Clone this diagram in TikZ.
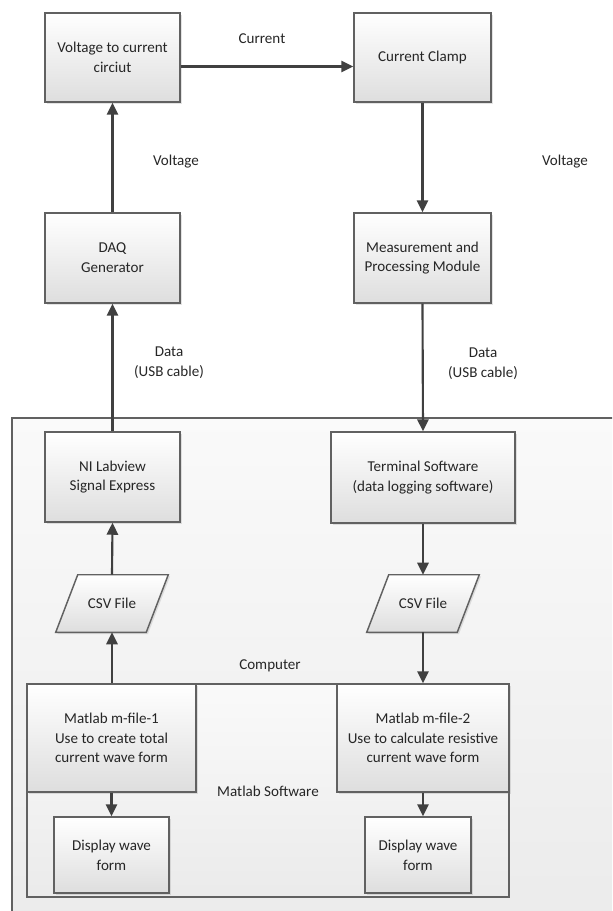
\documentclass[tikz,border=0pt]{standalone}
\usepackage{fontspec}
\setmainfont{Carlito}
\usetikzlibrary{arrows.meta,shadows,calc}
\pgfdeclarelayer{back}
\pgfdeclarelayer{mid}
\pgfsetlayers{back,mid,main}
\begin{document}
\begin{tikzpicture}[x=0.75pt,y=-0.75pt,
  font=\fontsize{11.3}{14.8}\selectfont,
  sz/.style 2 args={minimum width=#1*0.75pt, minimum height=#2*0.75pt},
  box/.style={draw=black!62, line width=1.1pt, top color=white, bottom color=black!13,
    align=center, text=black!85, inner sep=1pt,
    drop shadow={shadow xshift=1.3pt,shadow yshift=-1.3pt,opacity=0.22}},
  shapefill/.style={draw=black!62, line width=1.1pt, top color=white, bottom color=black!13,
    drop shadow={shadow xshift=1.3pt,shadow yshift=-1.3pt,opacity=0.22}},
  txtnode/.style={align=center, text=black!85, inner sep=0pt},
  group/.style={draw=black!62, line width=1.1pt, top color=black!2, bottom color=black!8},
  arr/.style={draw=black!75, line width=1.6pt, -{Triangle[length=9pt,width=8.5pt]}}]
\useasboundingbox (0,0) rectangle (612,911);

% group frames
\begin{pgfonlayer}{back}
  \begin{scope}
    \clip (0,0) rectangle (612,911);
    \path[group] (12,418) rectangle (640,940);
  \end{scope}
  \path[group] (27,684) rectangle (509,897);
\end{pgfonlayer}

% top row
\node[box, sz={135}{89}] (vtc) at (112.5,57.5) {Voltage to current\\circiut};
\node[box, sz={137}{89}] (cc)  at (422.5,57.5) {Current Clamp};
\node[box, sz={135}{90}] (daq) at (112.5,258) {DAQ\\Generator};
\node[box, sz={137}{90}] (mpm) at (422.5,258) {Measurement and\\Processing Module};

% computer part
\node[box, sz={135}{90}] (ni) at (112.5,477) {NI Labview\\Signal Express};
\node[box, sz={184}{91}] (ts) at (423,477.5) {Terminal Software\\(data logging software)};

\node[txtnode, sz={112}{57}] (csv1) at (112,603.5) {CSV File};
\node[txtnode, sz={112}{57}] (csv2) at (423,603.5) {CSV File};
\begin{pgfonlayer}{mid}
  \path[shapefill] ($(csv1.north west)+(22,0)$) -- (csv1.north east)
     -- ($(csv1.south east)+(-22,0)$) -- (csv1.south west) -- cycle;
  \path[shapefill] ($(csv2.north west)+(22,0)$) -- (csv2.north east)
     -- ($(csv2.south east)+(-22,0)$) -- (csv2.south west) -- cycle;
\end{pgfonlayer}

\node[box, sz={169}{108}] (mf1) at (111.5,738) {Matlab m-file-1\\Use to create total\\current wave form};
\node[box, sz={172}{108}] (mf2) at (423,738) {Matlab m-file-2\\Use to calculate resistive\\current wave form};
\node[box, sz={115}{76}] (d1) at (111.5,855) {Display wave\\form};
\node[box, sz={106}{76}] (d2) at (418,855) {Display wave\\form};

% labels
\node[txtnode] (lcur) at (262,39) {Current};
\node[txtnode] (lv1) at (176,162) {Voltage};
\node[txtnode] (lv2) at (565,162) {Voltage};
\node[txtnode] (ld1) at (169,363) {Data\\(USB cable)};
\node[txtnode] (ld2) at (483,364) {Data\\(USB cable)};
\node[txtnode] (lcomp) at (270,666) {Computer};
\node[txtnode] (lmat) at (268,791) {Matlab Software};

% connectors
\draw[arr] ($(vtc.east)+(0,9)$) -- ($(cc.west)+(0,9)$);
\draw[arr] (daq.north) -- (vtc.south);
\draw[arr] (ni.north) -- (daq.south);
\draw[arr] (csv1.north) -- (ni.south);
\draw[arr] (csv1.south |- mf1.north) -- (csv1.south);
\draw[arr] (mf1.south) -- (mf1.south |- d1.north);

\draw[arr] (cc.south) -- (mpm.north);
\draw[arr] (mpm.south) -- (ts.north);
\draw[arr] (ts.south) -- (csv2.north);
\draw[arr] (csv2.south) -- (mf2.north);
\draw[arr] (mf2.south) -- (mf2.south |- d2.north);
\end{tikzpicture}
\end{document}
